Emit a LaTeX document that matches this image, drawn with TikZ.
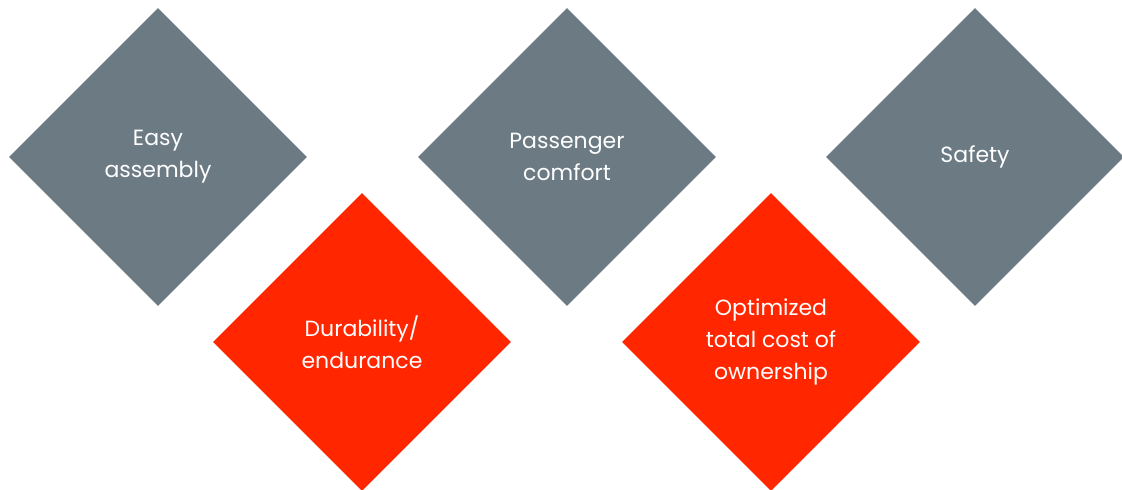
\documentclass[tikz,border=0pt]{standalone}
\usepackage{fontspec}
\setmainfont{Poppins}
\usetikzlibrary{shapes.geometric}
\definecolor{steel}{rgb}{0.420,0.478,0.514}
\definecolor{signal}{rgb}{1.000,0.149,0.000}

\begin{document}
\begin{tikzpicture}[
  x=1pt, y=-1pt,
  every node/.style={
    diamond,
    aspect=1,
    inner sep=0mm,
    minimum width=298pt,
    minimum height=298pt,
    text=white,
    align=center,
    font=\fontsize{22}{32}\selectfont
  },
  upper/.style={fill=steel},
  lower/.style={fill=signal},
]
\useasboundingbox (0,0) rectangle (1122,490);

\node[upper] (assembly) at (158,157) {Easy\\assembly};
\node[upper] (comfort)  at (567,157) {Passenger\\comfort};
\node[upper] (safety)   at (975,157) {Safety};

\node[lower] (durability) at (362,342) {Durability/\\endurance};
\node[lower] (ownership)  at (771,342) {Optimized\\total cost of\\ownership};

\end{tikzpicture}
\end{document}
